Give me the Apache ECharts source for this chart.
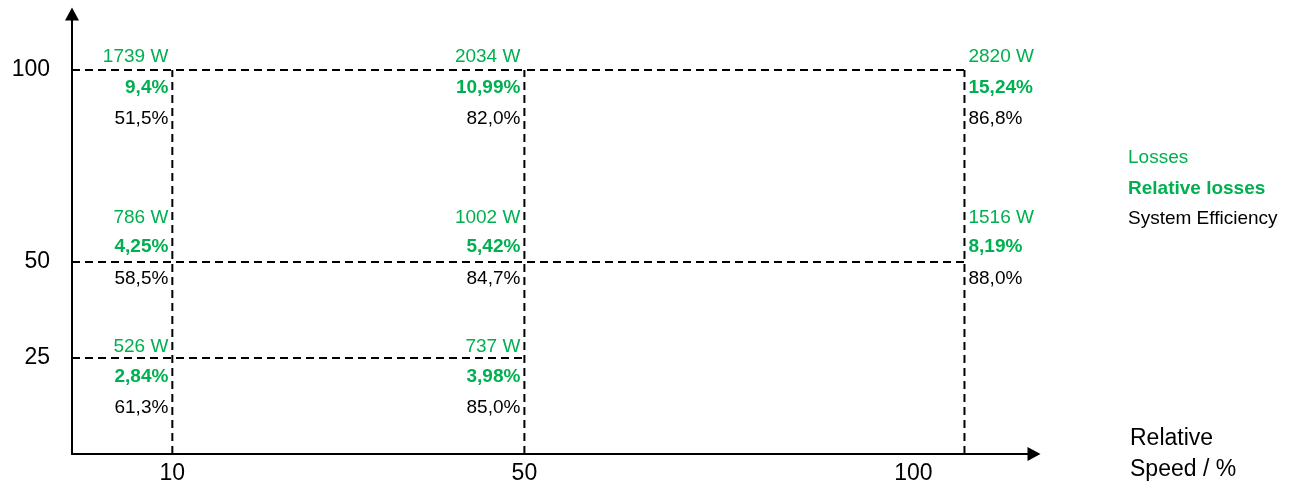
<!DOCTYPE html>
<html>
<head>
<meta charset="utf-8">
<script src="https://cdn.jsdelivr.net/npm/echarts@6/dist/echarts.min.js"></script>
<style>
  html, body { margin: 0; padding: 0; background: #fff; }
  #chart { width: 1300px; height: 485px; }
</style>
</head>
<body>
<div id="chart"></div>
<script>
// operating points (relative speed %, relative torque %)
const speeds = [10, 50, 100, 10, 50, 100, 10, 50];
const torques = [100, 100, 100, 50, 50, 50, 25, 25];
const lossesW = [1739, 2034, 2820, 786, 1002, 1516, 526, 737];
const relLosses = [9.4, 10.99, 15.24, 4.25, 5.42, 8.19, 2.84, 3.98];
const efficiency = [51.5, 82.0, 86.8, 58.5, 84.7, 88.0, 61.3, 85.0];

// grid lines
const hLines = [100, 50, 25];
const hLineEnds = [100, 100, 50];
const vLines = [10, 50, 100];
const vLineTops = [100, 100, 100];

const xTicks = [10, 50, 100];
const yTicks = [25, 50, 100];

const GREEN = '#00b050';
const FONT = '"Liberation Sans", Arial, sans-serif';
const X_MIN = -1.4, X_MAX = 107.9, Y_MIN = 0, Y_MAX = 114.6;

const comma = (v) => String(v).replace('.', ',');

// vertical label offsets per torque row: [losses, relative, efficiency]
const rowOffsets = { 100: [-13, 18, 49], 50: [-44, -15, 17], 25: [-11, 19, 50] };

const chart = echarts.init(document.getElementById('chart'));

const labelSeries = (name, idx, fmt, style) => ({
  name: name,
  type: 'scatter',
  symbolSize: 1,
  itemStyle: { color: 'transparent', opacity: 1 },
  z: 5,
  data: speeds.map((s, i) => {
    const right = s === 100;
    return {
      value: [s, torques[i]],
      label: {
        offset: [right ? 4 : -4, rowOffsets[torques[i]][idx]],
        align: right ? 'left' : 'right'
      }
    };
  }),
  label: Object.assign({
    show: true,
    position: 'inside',
    verticalAlign: 'middle',
    opacity: 1,
    fontFamily: FONT,
    fontSize: 19,
    formatter: (p) => fmt(p.dataIndex)
  }, style),
  emphasis: { disabled: true }
});

const dashStyle = { color: '#000', width: 2, type: [8, 5] };

const lineSeries = [];
hLines.forEach((y, i) => {
  lineSeries.push({
    type: 'line', symbol: 'none', silent: true,
    lineStyle: dashStyle,
    data: [[X_MIN, y], [hLineEnds[i], y]]
  });
});
vLines.forEach((x, i) => {
  lineSeries.push({
    type: 'line', symbol: 'none', silent: true,
    lineStyle: dashStyle,
    data: [[x, Y_MIN], [x, vLineTops[i]]]
  });
});

const option = {
  animation: false,
  textStyle: { fontFamily: FONT },
  grid: { left: 72, right: 266, top: 14, bottom: 31 },
  legend: {
    orient: 'vertical',
    left: 1118,
    top: 143,
    icon: 'none',
    itemWidth: 0,
    itemHeight: 20,
    itemGap: 11,
    selectedMode: false,
    textStyle: { fontSize: 19, fontFamily: FONT },
    data: [
      { name: 'Losses', textStyle: { color: GREEN } },
      { name: 'Relative losses', textStyle: { color: GREEN, fontWeight: 'bold' } },
      { name: 'System Efficiency', textStyle: { color: '#000' } }
    ]
  },
  xAxis: {
    type: 'value',
    min: X_MIN,
    max: X_MAX,
    name: 'Relative\nSpeed / %',
    nameLocation: 'end',
    nameGap: 96,
    nameTextStyle: {
      fontSize: 23, color: '#000', align: 'left', verticalAlign: 'middle', lineHeight: 31
    },
    axisLine: {
      onZero: false,
      lineStyle: { color: '#000', width: 2 },
      symbol: ['none', 'triangle'],
      symbolSize: [14, 13]
    },
    axisTick: { show: false },
    splitLine: { show: false },
    axisLabel: {
      customValues: xTicks,
      fontSize: 23,
      color: '#000',
      margin: 8,
      formatter: (v) => v === 100 ? '{shift|' + v + '}' : String(v),
      rich: { shift: { fontSize: 23, color: '#000', padding: [0, 102, 0, 0] } }
    }
  },
  yAxis: {
    type: 'value',
    min: Y_MIN,
    max: Y_MAX,
    axisLine: {
      onZero: false,
      lineStyle: { color: '#000', width: 2 },
      symbol: ['none', 'triangle'],
      symbolSize: [14, 13]
    },
    axisTick: { show: false },
    splitLine: { show: false },
    axisLabel: {
      customValues: yTicks,
      fontSize: 23,
      color: '#000',
      margin: 22,
      padding: [4, 0, 0, 0]
    }
  },
  series: lineSeries.concat([
    labelSeries('Losses', 0, (i) => lossesW[i] + ' W', { color: GREEN }),
    labelSeries('Relative losses', 1, (i) => comma(relLosses[i]) + '%', { color: GREEN, fontWeight: 'bold' }),
    labelSeries('System Efficiency', 2, (i) => efficiency[i].toFixed(1).replace('.', ',') + '%', { color: '#000' })
  ])
};

chart.setOption(option);
</script>
</body>
</html>
